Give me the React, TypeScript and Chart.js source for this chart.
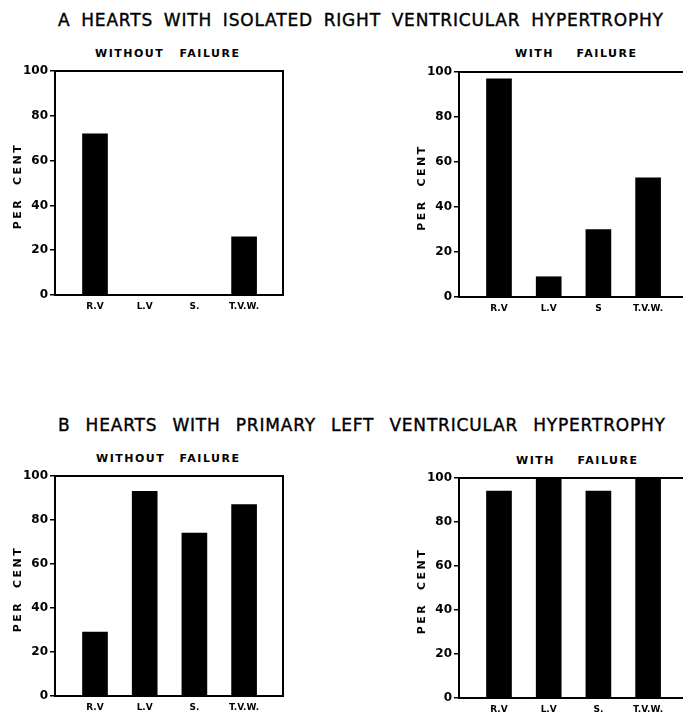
import React, { useEffect, useRef } from 'react';
import { Chart, registerables } from 'chart.js';

Chart.register(...registerables);

// ---- data ----
const CATEGORY_POSITIONS = [1, 2, 3, 4];
const LABELS = ['R.V', 'L.V', 'S.', 'T.V.W.'];
const LABELS_A_WITH = ['R.V', 'L.V', 'S', 'T.V.W.'];
const A_WITHOUT_FAILURE = [72, 0, 0, 26];
const A_WITH_FAILURE = [97, 9, 30, 53];
const B_WITHOUT_FAILURE = [29, 93, 74, 87];
const B_WITH_FAILURE = [94, 100, 94, 100];
const Y_TICK_VALUES = [0, 20, 40, 60, 80, 100];
const Y_TITLE = 'PER  CENT';
const TITLE_A = ['A', 'HEARTS', 'WITH', 'ISOLATED', 'RIGHT', 'VENTRICULAR', 'HYPERTROPHY'];
const TITLE_B = ['B', 'HEARTS', 'WITH', 'PRIMARY', 'LEFT', 'VENTRICULAR', 'HYPERTROPHY'];
const SUB_WITHOUT = ['WITHOUT', 'FAILURE'];
const SUB_WITH = ['WITH', 'FAILURE'];

const FONT = '"DejaVu Sans", sans-serif';
const Y_AXIS_W = 55;
const PAD_TOP = 10;
const X_AXIS_H = 26;
const PAD_RIGHT = 4;
const X_MIN = 0.195;
const X_MAX = 4.783;

const framePlugin = {
  id: 'frameAndTitle',
  afterDraw(chart: any) {
    const { ctx, chartArea } = chart;
    const { left, right, top, bottom } = chartArea;
    ctx.save();
    ctx.strokeStyle = '#000';
    ctx.lineWidth = 2;
    ctx.beginPath();
    ctx.moveTo(left - 1, top);
    ctx.lineTo(right, top);
    ctx.lineTo(right, bottom + 1);
    ctx.stroke();
    ctx.translate(left - 37, (top + bottom) / 2 + 3);
    ctx.rotate(-Math.PI / 2);
    ctx.font = `bold 11px ${FONT}`;
    (ctx as any).letterSpacing = '2.5px';
    ctx.textAlign = 'center';
    ctx.textBaseline = 'middle';
    ctx.fillStyle = '#000';
    ctx.fillText(Y_TITLE, 0, 0);
    ctx.restore();
  },
};

function Panel(props: {
  values: number[];
  labels: string[];
  axisLeft: number;
  chartTop: number;
  chartBottom: number;
  chartRight: number;
}) {
  const { values, labels, axisLeft, chartTop, chartBottom, chartRight } = props;
  const ref = useRef<HTMLCanvasElement | null>(null);
  const canvasLeft = axisLeft - Y_AXIS_W;
  const canvasTop = chartTop - PAD_TOP;
  const width = chartRight - canvasLeft + PAD_RIGHT;
  const height = chartBottom - canvasTop + X_AXIS_H;

  useEffect(() => {
    if (!ref.current) return;
    const chart = new Chart(ref.current, {
      type: 'bar',
      data: {
        datasets: [
          {
            data: CATEGORY_POSITIONS.map((x, i) => ({ x, y: values[i] })),
            backgroundColor: '#000',
            borderWidth: 0,
            barThickness: 25,
          } as any,
        ],
      },
      options: {
        animation: false,
        responsive: false,
        maintainAspectRatio: false,
        layout: { padding: { top: PAD_TOP, right: PAD_RIGHT, left: 0, bottom: 0 } },
        plugins: { legend: { display: false }, tooltip: { enabled: false } },
        scales: {
          x: {
            type: 'linear',
            min: X_MIN,
            max: X_MAX,
            offset: false,
            grid: { display: false, drawTicks: false, offset: false },
            border: { display: true, color: '#000', width: 2 },
            afterBuildTicks: (s: any) => {
              s.ticks = CATEGORY_POSITIONS.map((v) => ({ value: v }));
            },
            ticks: {
              callback: (_v: any, i: number) => labels[i],
              color: '#000',
              font: { family: FONT, size: 9, weight: 'bold' },
              padding: 6,
              maxRotation: 0,
              autoSkip: false,
            },
            afterFit: (s: any) => {
              s.height = X_AXIS_H;
            },
          },
          y: {
            type: 'linear',
            min: 0,
            max: 100,
            afterBuildTicks: (s: any) => {
              s.ticks = Y_TICK_VALUES.map((v) => ({ value: v }));
            },
            grid: {
              display: true,
              drawOnChartArea: false,
              drawTicks: true,
              tickLength: 5,
              color: '#000',
              lineWidth: 1.5,
            },
            border: { display: true, color: '#000', width: 2 },
            ticks: {
              color: '#000',
              font: { family: FONT, size: 12, weight: 'bold' },
              padding: 2,
            },
            afterFit: (s: any) => {
              s.width = Y_AXIS_W;
            },
          },
        },
      } as any,
      plugins: [framePlugin as any],
    });
    return () => chart.destroy();
  }, []);

  return (
    <canvas
      ref={ref}
      width={width}
      height={height}
      style={{ position: 'absolute', left: canvasLeft, top: canvasTop, width, height }}
    />
  );
}

function SpreadText(props: {
  words: string[];
  left: number;
  right: number;
  centerY: number;
  size: number;
  bold?: boolean;
  spacing: number;
  stroke?: number;
}) {
  const { words, left, right, centerY, size, bold, spacing, stroke } = props;
  const h = size + 6;
  return (
    <div
      style={{
        position: 'absolute',
        left,
        width: right - left,
        top: centerY - h / 2,
        height: h,
        lineHeight: `${h}px`,
        display: 'flex',
        justifyContent: 'space-between',
        fontFamily: FONT,
        fontSize: size,
        fontWeight: bold ? 'bold' : 'normal',
        letterSpacing: `${spacing}px`,
        color: '#000',
        whiteSpace: 'nowrap',
        WebkitTextStroke: stroke ? `${stroke}px #000` : undefined,
      }}
    >
      {words.map((w, i) => (
        <span key={i} style={{ marginRight: i === words.length - 1 ? -spacing : 0 }}>
          {w}
        </span>
      ))}
    </div>
  );
}

export default function App() {
  return (
    <div
      style={{
        position: 'absolute',
        left: 0,
        top: 0,
        width: 683,
        height: 712,
        overflow: 'hidden',
        background: '#fff',
      }}
    >
      <SpreadText words={TITLE_A} left={58} right={663} centerY={20} size={17} spacing={0.8} stroke={0.4} />
      <SpreadText words={SUB_WITHOUT} left={95} right={239} centerY={53} size={11} bold spacing={1.5} />
      <SpreadText words={SUB_WITH} left={515} right={636} centerY={53} size={11} bold spacing={1.5} />
      <Panel values={A_WITHOUT_FAILURE} labels={LABELS} axisLeft={55} chartTop={71} chartBottom={295} chartRight={283} />
      <Panel values={A_WITH_FAILURE} labels={LABELS_A_WITH} axisLeft={459} chartTop={72} chartBottom={297} chartRight={687} />

      <SpreadText words={TITLE_B} left={58} right={665} centerY={425} size={17} spacing={0.8} stroke={0.4} />
      <SpreadText words={SUB_WITHOUT} left={96} right={239} centerY={458} size={11} bold spacing={1.5} />
      <SpreadText words={SUB_WITH} left={516} right={637} centerY={460} size={11} bold spacing={1.5} />
      <Panel values={B_WITHOUT_FAILURE} labels={LABELS} axisLeft={55} chartTop={476} chartBottom={696} chartRight={283} />
      <Panel values={B_WITH_FAILURE} labels={LABELS} axisLeft={459} chartTop={478} chartBottom={698} chartRight={687} />
    </div>
  );
}
